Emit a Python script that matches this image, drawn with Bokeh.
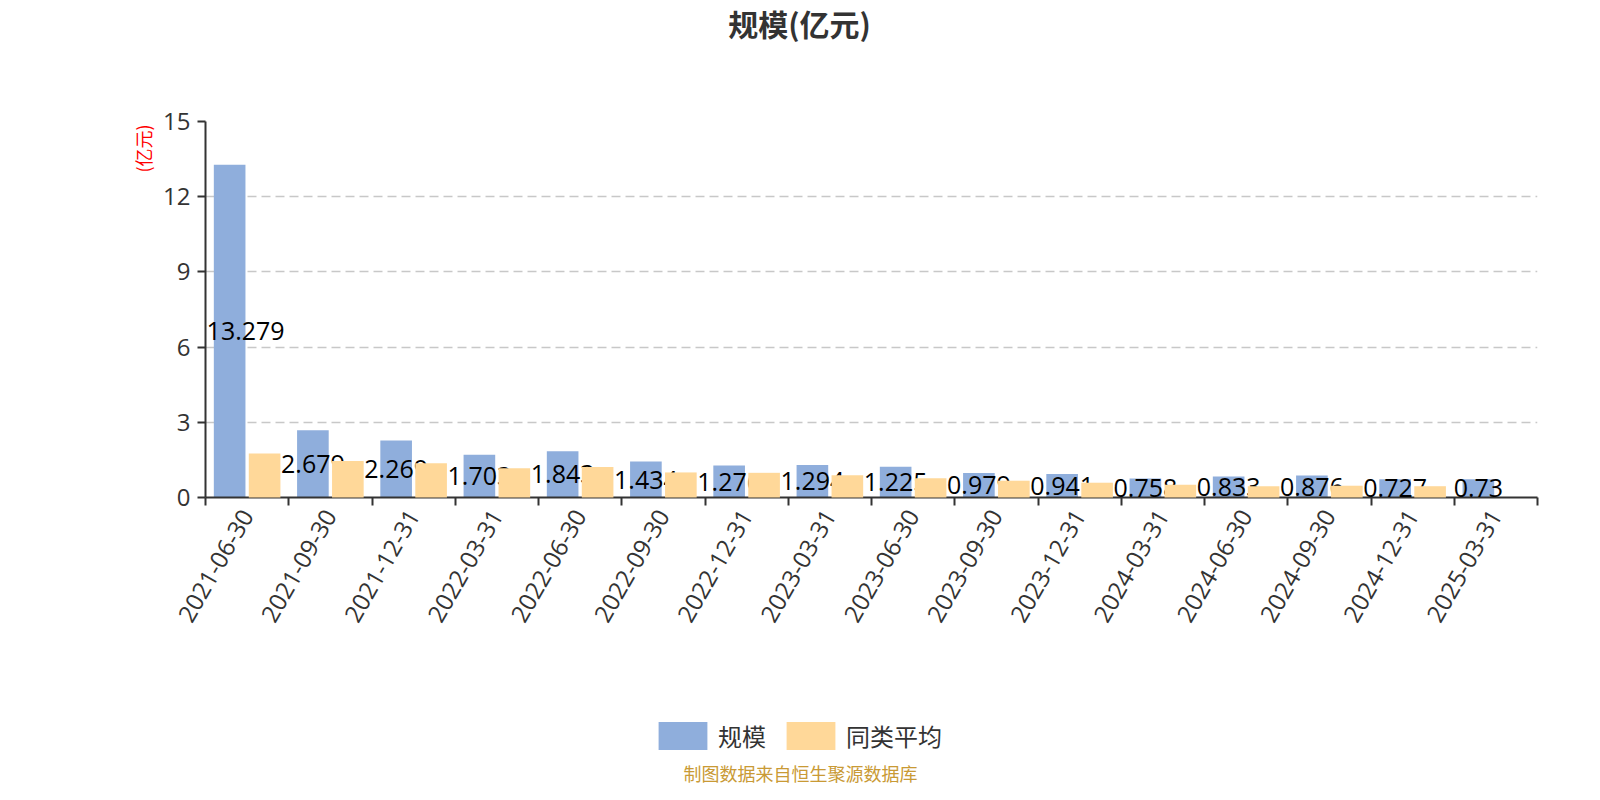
import math
import numpy as np
from bokeh.plotting import figure
from bokeh.layouts import column, row
from bokeh.models import (Range1d, FixedTicker, Label, LabelSet, ColumnDataSource,
                          Legend, LegendItem)
from bokeh.embed import file_html
from bokeh.resources import INLINE
from bokeh.core.properties import value

# ---------------- data ----------------
dates = ["2021-06-30", "2021-09-30", "2021-12-31", "2022-03-31", "2022-06-30",
         "2022-09-30", "2022-12-31", "2023-03-31", "2023-06-30", "2023-09-30",
         "2023-12-31", "2024-03-31", "2024-06-30", "2024-09-30", "2024-12-31",
         "2025-03-31"]
scale = [13.279, 2.679, 2.269, 1.703, 1.843, 1.434, 1.276, 1.294, 1.225, 0.979,
         0.941, 0.758, 0.833, 0.876, 0.727, 0.73]
peer_avg = [1.76, 1.46, 1.37, 1.17, 1.22, 1.00, 0.985, 0.89, 0.77, 0.67,
            0.59, 0.51, 0.45, 0.47, 0.45, float("nan")]
y_ticks = [0, 3, 6, 9, 12, 15]
series_names = ["规模", "同类平均"]
title_text = "规模(亿元)"
y_name = "(亿元)"
footer_text = "制图数据来自恒生聚源数据库"

BLUE = "#8FAEDC"
ORANGE = "#FFD899"
TXT = "#333333"
CJK = "Noto Sans CJK SC"
LAT = "Open Sans"

W, H = 1584, 784
TOP_H = 60
LEFT_W = 160
MAIN_H = 597
BOT_H = H - TOP_H - MAIN_H


def blank(width, height):
    f = figure(width=width, height=height, x_range=Range1d(0, width),
               y_range=Range1d(0, height), x_axis_location=None, y_axis_location=None,
               min_border=0, toolbar_location=None, outline_line_color=None,
               output_backend="svg")
    f.grid.visible = False
    return f


n = len(dates)
centers = np.arange(n) + 0.5
# the tallest bar's label would spill over the y axis: nudge it inside the frame
dx = [16 if v == max(scale) else 0 for v in scale]
src = ColumnDataSource(dict(
    xb=centers - 0.21,
    xo=centers + 0.21,
    scale=scale,
    avg=peer_avg,
    ly=np.array(scale) / 2.0,
    lab=[f"{v:g}" for v in scale],
    dx=dx,
))

p = figure(width=W - LEFT_W, height=MAIN_H, x_range=Range1d(0, n), y_range=Range1d(0, 15),
           output_backend="svg", toolbar_location=None,
           min_border_left=45, min_border_right=47, min_border_top=61,
           min_border_bottom=160, outline_line_color=None)

# grid
p.xgrid.visible = False
p.ygrid.ticker = FixedTicker(ticks=y_ticks)
p.ygrid.grid_line_color = "#c8c8c8"
p.ygrid.grid_line_dash = "9 5"
p.ygrid.grid_line_width = 1.5

# y axis
ya = p.yaxis[0]
ya.ticker = FixedTicker(ticks=y_ticks)
ya.axis_line_color = TXT
ya.axis_line_width = 2
ya.major_tick_line_color = TXT
ya.major_tick_line_width = 2
ya.major_tick_out = 8
ya.major_tick_in = 0
ya.minor_tick_line_color = None
ya.major_label_text_font = LAT
ya.major_label_text_font_size = "24px"
ya.major_label_text_color = TXT
ya.major_label_standoff = 7

# x axis
xa = p.xaxis[0]
xa.ticker = FixedTicker(ticks=list(centers), minor_ticks=list(range(n + 1)))
xa.major_label_overrides = {float(c): d for c, d in zip(centers, dates)}
xa.axis_line_color = TXT
xa.axis_line_width = 2
xa.major_tick_line_color = None
xa.major_tick_out = 8
xa.major_tick_in = 0
xa.minor_tick_line_color = TXT
xa.minor_tick_line_width = 2
xa.minor_tick_out = 8
xa.minor_tick_in = 0
xa.major_label_orientation = math.pi / 3
xa.major_label_text_font = LAT
xa.major_label_text_font_size = "24px"
xa.major_label_text_color = TXT
xa.major_label_standoff = 6

# bars and labels
rb = p.vbar(x="xb", top="scale", bottom=0, width=0.38, source=src,
            fill_color=BLUE, line_color=None)
labels = LabelSet(x="xb", y="ly", text="lab", source=src, x_offset="dx",
                  text_align="center", text_baseline="middle", text_font=value(LAT),
                  text_font_size="25px", text_color="#000000")
p.add_layout(labels)
ro = p.vbar(x="xo", top="avg", bottom=0, width=0.38, source=src,
            fill_color=ORANGE, line_color=None, level="overlay")

# ---- title strip ----
top = blank(W, TOP_H)
top.add_layout(Label(x=799, y=TOP_H - 22.5, x_units="screen", y_units="screen",
                     text=title_text, text_align="center", text_baseline="middle",
                     text_font=CJK, text_font_size="30px", text_font_style="bold",
                     text_color=TXT))

# ---- left strip with the axis name (its frame lines up with the chart frame) ----
left = blank(LEFT_W, MAIN_H)
left.add_layout(Label(x=142.5, y=497 - 148, x_units="screen", y_units="screen",
                      text=y_name, angle=math.pi / 2, text_align="center",
                      text_baseline="middle", text_font=CJK, text_font_size="18px",
                      text_color="#ff0000"))

# ---- bottom strip: legend + source note ----
bot = blank(W, BOT_H)
nan = [float("nan")]
lb = bot.vbar(x=nan, top=nan, width=1, fill_color=BLUE, line_color=None)
lo = bot.vbar(x=nan, top=nan, width=1, fill_color=ORANGE, line_color=None)
legend = Legend(items=[LegendItem(label=series_names[0], renderers=[lb]),
                       LegendItem(label=series_names[1], renderers=[lo])],
                location=(652, 31.5), orientation="horizontal",
                glyph_width=61, glyph_height=35, label_height=35,
                label_standoff=5, spacing=14, padding=0, margin=0,
                border_line_color=None, background_fill_alpha=0,
                label_text_font=CJK, label_text_font_size="24px",
                label_text_color=TXT, label_text_baseline="middle")
bot.add_layout(legend)
bot.add_layout(Label(x=800, y=12, x_units="screen", y_units="screen", text=footer_text,
                     text_align="center", text_baseline="middle", text_font=CJK,
                     text_font_size="18px", text_color="#c99a35"))

layout = column(top, row(left, p), bot)
open("out.html", "w").write(file_html(layout, INLINE))
